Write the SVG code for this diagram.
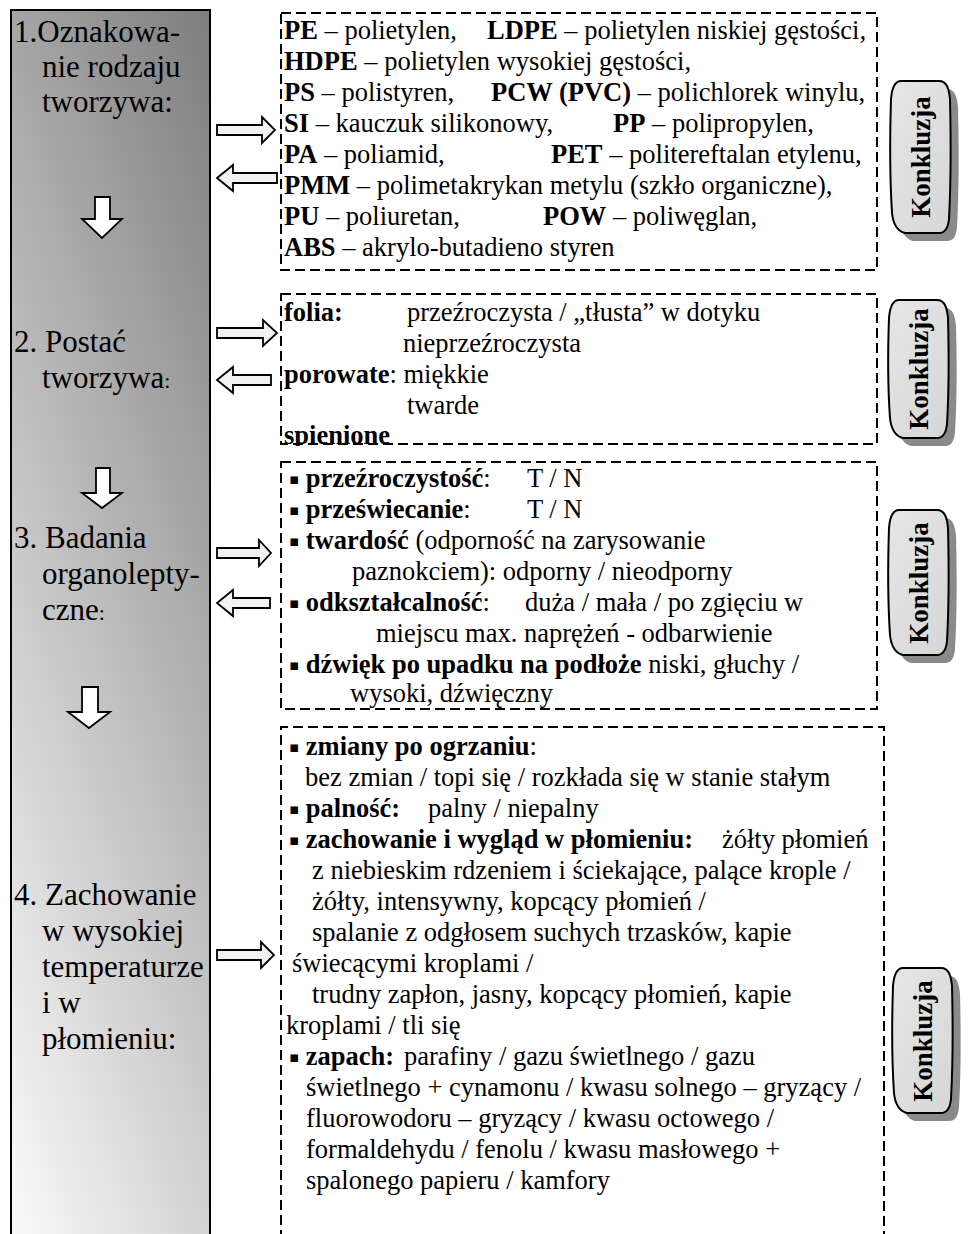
<svg xmlns="http://www.w3.org/2000/svg" width="968" height="1234" viewBox="0 0 968 1234">
<style>
text{font-family:"Liberation Serif","Times New Roman",serif;fill:#000}
.L{font-size:31px}
.s{font-size:26.5px}
.b{font-weight:bold}
.bul{font-family:"DejaVu Sans",sans-serif;font-size:15px}
.sc{font-size:22px}
.box{fill:none;stroke:#000;stroke-width:2;stroke-dasharray:10 5}
.arr{fill:#f2f2f2;stroke:#000;stroke-width:1.8;stroke-linejoin:miter}
.dn{fill:#fff;stroke:#000;stroke-width:1.8}
.konk{fill:url(#kg);stroke:#000;stroke-width:2}
.shad{fill:#8a8a8a}
.kt{font-size:27px;font-weight:bold}
</style>
<defs>
<linearGradient id="colg" x1="1" y1="0" x2="0.45" y2="1.2">
<stop offset="0" stop-color="#7e7e7e"/>
<stop offset="1" stop-color="#fbfbfb"/>
</linearGradient>
<linearGradient id="kg" x1="0" y1="0" x2="1" y2="1">
<stop offset="0" stop-color="#e6e6e6"/>
<stop offset="1" stop-color="#d6d6d6"/>
</linearGradient>
<clipPath id="clip2"><rect x="270" y="280" width="620" height="166"/></clipPath>
</defs>
<rect width="968" height="1234" fill="#fff"/>

<g id="left-column">
<rect x="11" y="10" width="199" height="1240" fill="url(#colg)" stroke="#000" stroke-width="2"/>
<text class="L" x="14" y="42">1.Oznakowa-</text>
<text class="L" x="42" y="77">nie rodzaju</text>
<text class="L" x="42" y="112">tworzywa:</text>
<text class="L" x="14" y="352">2. Postać</text>
<text class="L" x="42" y="388">tworzywa<tspan class="sc">:</tspan></text>
<text class="L" x="14" y="548">3. Badania</text>
<text class="L" x="42" y="584">organolepty-</text>
<text class="L" x="42" y="620">czne<tspan class="sc">:</tspan></text>
<text class="L" x="14" y="905">4. Zachowanie</text>
<text class="L" x="42" y="941">w  wysokiej</text>
<text class="L" x="42" y="977">temperaturze</text>
<text class="L" x="42" y="1013">i  w</text>
<text class="L" x="42" y="1049">płomieniu:</text>
</g>

<g id="connectors">
<polygon class="dn" points="95,197 110,197 110,219 122,219 102,238 82,219 95,219"/>
<polygon class="dn" points="96,468 110,468 110,493 122,493 102,508 82,493 96,493"/>
<polygon class="dn" points="82,687 98,687 98,712 110,712 89,728 68,712 82,712"/>
<polygon class="arr" points="217,125 262,125 262,117 275,130 262,143 262,135 217,135"/>
<polygon class="arr" points="277,173 233,173 233,165 217,178 233,191 233,183 277,183"/>
<polygon class="arr" points="217,328 263,328 263,320 277,333 263,346 263,338 217,338"/>
<polygon class="arr" points="271,375 233,375 233,367 217,380 233,393 233,385 271,385"/>
<polygon class="arr" points="217,548 259,548 259,540 271,553 259,566 259,558 217,558"/>
<polygon class="arr" points="270,598 233,598 233,590 217,603 233,616 233,608 270,608"/>
<polygon class="arr" points="217,950 261,950 261,942 274,955 261,968 261,960 217,960"/>
</g>

<g id="box1">
<rect class="box" x="281" y="13" width="596" height="257"/>
<text class="s" x="284" y="39"><tspan class="b">PE</tspan> – polietylen,</text>
<text class="s" x="487" y="39"><tspan class="b">LDPE</tspan> – polietylen niskiej gęstości,</text>
<text class="s" x="284" y="70"><tspan class="b">HDPE</tspan> – polietylen wysokiej gęstości,</text>
<text class="s" x="284" y="101"><tspan class="b">PS</tspan> – polistyren,</text>
<text class="s" x="491" y="101"><tspan class="b">PCW (PVC)</tspan> – polichlorek winylu,</text>
<text class="s" x="284" y="132"><tspan class="b">SI</tspan> – kauczuk silikonowy,</text>
<text class="s" x="613" y="132"><tspan class="b">PP</tspan> – polipropylen,</text>
<text class="s" x="284" y="163"><tspan class="b">PA</tspan> – poliamid,</text>
<text class="s" x="551" y="163"><tspan class="b">PET</tspan> – politereftalan etylenu,</text>
<text class="s" x="284" y="194"><tspan class="b">PMM</tspan> – polimetakrykan metylu (szkło organiczne),</text>
<text class="s" x="284" y="225"><tspan class="b">PU</tspan> – poliuretan,</text>
<text class="s" x="543" y="225"><tspan class="b">POW</tspan> – poliwęglan,</text>
<text class="s" x="284" y="256"><tspan class="b">ABS</tspan> – akrylo-butadieno styren</text>
</g>

<g id="box2">
<text class="s" x="284" y="321"><tspan class="b">folia:</tspan></text>
<text class="s" x="407" y="321">przeźroczysta  / „tłusta” w dotyku</text>
<text class="s" x="403" y="352">nieprzeźroczysta</text>
<text class="s" x="284" y="383"><tspan class="b">porowate</tspan>: miękkie</text>
<text class="s" x="407" y="414">twarde</text>
<text class="s b" x="284" y="444" clip-path="url(#clip2)">spienione</text>
<rect class="box" x="281" y="294" width="596" height="150"/>
</g>

<g id="box3">
<rect class="box" x="281" y="462" width="596" height="247"/>
<text class="s" x="289" y="487"><tspan class="bul" dy="-3">▪</tspan><tspan dy="3"> </tspan><tspan class="b">przeźroczystość</tspan>:</text>
<text class="s" x="527" y="487">T / N</text>
<text class="s" x="289" y="518"><tspan class="bul" dy="-3">▪</tspan><tspan dy="3"> </tspan><tspan class="b">przeświecanie</tspan>:</text>
<text class="s" x="527" y="518">T / N</text>
<text class="s" x="289" y="549"><tspan class="bul" dy="-3">▪</tspan><tspan dy="3"> </tspan><tspan class="b">twardość</tspan> (odporność na zarysowanie</text>
<text class="s" x="352" y="580">paznokciem): odporny / nieodporny</text>
<text class="s" x="289" y="611"><tspan class="bul" dy="-3">▪</tspan><tspan dy="3"> </tspan><tspan class="b">odkształcalność</tspan>:</text>
<text class="s" x="525" y="611">duża / mała / po zgięciu w</text>
<text class="s" x="376" y="642">miejscu max. naprężeń - odbarwienie</text>
<text class="s" x="289" y="673"><tspan class="bul" dy="-3">▪</tspan><tspan dy="3"> </tspan><tspan class="b">dźwięk po upadku na podłoże</tspan> niski, głuchy /</text>
<text class="s" x="350" y="702">wysoki, dźwięczny</text>
</g>

<g id="box4">
<path class="box" d="M281,1240 L281,727 L884,727 L884,1240"/>
<text class="s" x="289" y="755"><tspan class="bul" dy="-3">▪</tspan><tspan dy="3"> </tspan><tspan class="b">zmiany po ogrzaniu</tspan>:</text>
<text class="s" x="305" y="786">bez zmian / topi się / rozkłada się w stanie stałym</text>
<text class="s" x="289" y="817"><tspan class="bul" dy="-3">▪</tspan><tspan dy="3"> </tspan><tspan class="b">palność:</tspan></text>
<text class="s" x="428" y="817">palny / niepalny</text>
<text class="s" x="289" y="848"><tspan class="bul" dy="-3">▪</tspan><tspan dy="3"> </tspan><tspan class="b">zachowanie i wygląd w płomieniu:</tspan></text>
<text class="s" x="722" y="848">żółty płomień</text>
<text class="s" x="312" y="879">z niebieskim rdzeniem i ściekające, palące krople /</text>
<text class="s" x="312" y="910">żółty, intensywny, kopcący płomień /</text>
<text class="s" x="312" y="941">spalanie z odgłosem suchych trzasków, kapie</text>
<text class="s" x="292" y="972">świecącymi kroplami /</text>
<text class="s" x="312" y="1003">trudny zapłon, jasny, kopcący płomień, kapie</text>
<text class="s" x="286" y="1034">kroplami / tli się</text>
<text class="s" x="289" y="1065"><tspan class="bul" dy="-3">▪</tspan><tspan dy="3"> </tspan><tspan class="b">zapach:</tspan></text>
<text class="s" x="404" y="1065">parafiny / gazu świetlnego / gazu</text>
<text class="s" x="306" y="1096">świetlnego + cynamonu / kwasu solnego – gryzący /</text>
<text class="s" x="306" y="1127">fluorowodoru – gryzący / kwasu octowego /</text>
<text class="s" x="306" y="1158">formaldehydu / fenolu / kwasu masłowego +</text>
<text class="s" x="306" y="1189">spalonego papieru / kamfory</text>
</g>

<g id="konkluzja1">
<path class="shad" transform="translate(899,89)" d="M10,0 L48,0 C56,0 58,8 59,18 C60,60 60,100 58,138 C57,148 54,152 48,152 L14,152 C6,150 2,142 1,132 C-1,100 -1,50 0,18 C1,6 4,0 10,0 Z"/>
<path class="konk" transform="translate(891,81)" d="M10,0 L48,0 C56,0 58,8 59,18 C60,60 60,100 58,138 C57,148 54,152 48,152 L14,152 C6,150 2,142 1,132 C-1,100 -1,50 0,18 C1,6 4,0 10,0 Z"/>
<text class="kt" text-anchor="middle" transform="translate(930,157) rotate(-90)">Konkluzja</text>
</g>
<g id="konkluzja2">
<path class="shad" transform="translate(897,308)" d="M10,0 L48,0 C56,0 58,8 59,18 C60,55 60,90 58,124 C57,134 54,138 48,138 L14,138 C6,136 2,128 1,118 C-1,90 -1,45 0,18 C1,6 4,0 10,0 Z"/>
<path class="konk" transform="translate(889,300)" d="M10,0 L48,0 C56,0 58,8 59,18 C60,55 60,90 58,124 C57,134 54,138 48,138 L14,138 C6,136 2,128 1,118 C-1,90 -1,45 0,18 C1,6 4,0 10,0 Z"/>
<text class="kt" text-anchor="middle" transform="translate(928,369) rotate(-90)">Konkluzja</text>
</g>
<g id="konkluzja3">
<path class="shad" transform="translate(897,518)" d="M10,0 L48,0 C56,0 58,8 59,18 C60,58 60,95 58,131 C57,141 54,145 48,145 L14,145 C6,143 2,135 1,125 C-1,95 -1,48 0,18 C1,6 4,0 10,0 Z"/>
<path class="konk" transform="translate(889,510)" d="M10,0 L48,0 C56,0 58,8 59,18 C60,58 60,95 58,131 C57,141 54,145 48,145 L14,145 C6,143 2,135 1,125 C-1,95 -1,48 0,18 C1,6 4,0 10,0 Z"/>
<text class="kt" text-anchor="middle" transform="translate(928,583) rotate(-90)">Konkluzja</text>
</g>
<g id="konkluzja4">
<path class="shad" transform="translate(901,976)" d="M10,0 L48,0 C56,0 58,8 59,18 C60,58 60,95 58,131 C57,141 54,145 48,145 L14,145 C6,143 2,135 1,125 C-1,95 -1,48 0,18 C1,6 4,0 10,0 Z"/>
<path class="konk" transform="translate(893,968)" d="M10,0 L48,0 C56,0 58,8 59,18 C60,58 60,95 58,131 C57,141 54,145 48,145 L14,145 C6,143 2,135 1,125 C-1,95 -1,48 0,18 C1,6 4,0 10,0 Z"/>
<text class="kt" text-anchor="middle" transform="translate(932,1041) rotate(-90)">Konkluzja</text>
</g>
</svg>
